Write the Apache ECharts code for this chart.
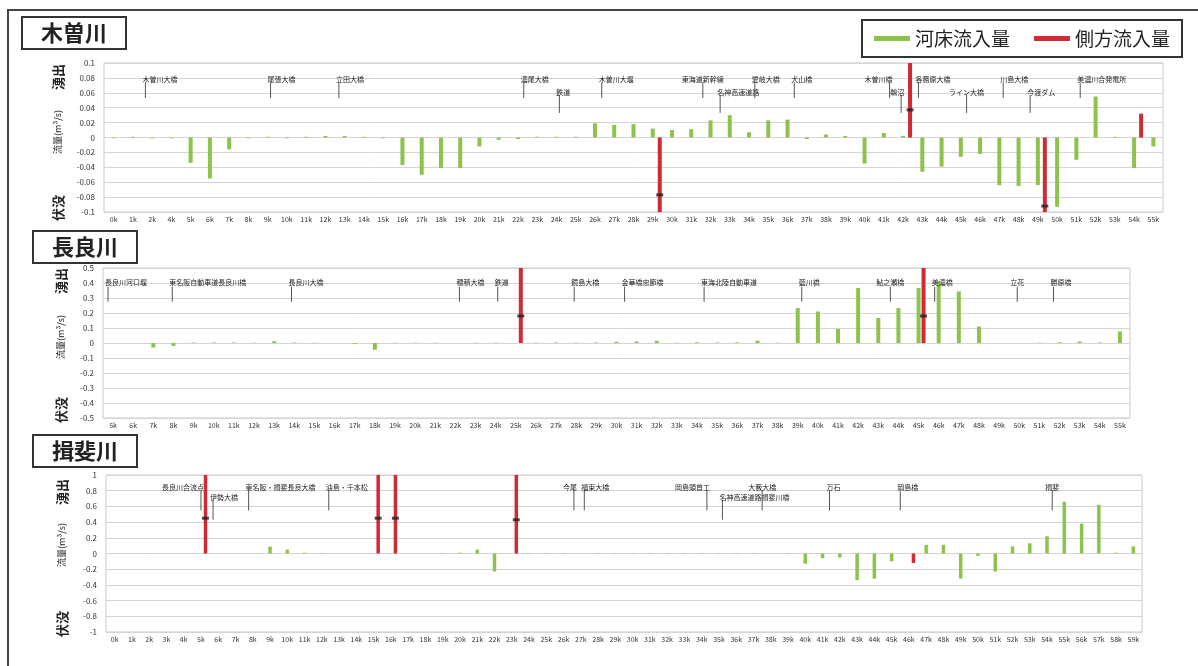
<!DOCTYPE html>
<html><head><meta charset="utf-8">
<script src="https://cdn.jsdelivr.net/npm/echarts@6/dist/echarts.min.js"></script>
<style>html,body{margin:0;padding:0;background:#fff}#c{width:1198px;height:666px}</style>
</head><body><div id="c"></div>
<script>
// ---------- 木曽川 ----------
const kisoCats = ['0k','1k','2k','4k','5k','6k','7k','8k','9k','10k','11k','12k','13k','14k','15k','16k','17k','18k','19k','20k','21k','22k','23k','24k','25k','26k','27k','28k','29k','30k','31k','32k','33k','34k','35k','36k','37k','38k','39k','40k','41k','42k','43k','44k','45k','46k','47k','48k','49k','50k','51k','52k','53k','54k','55k'];
const kisoBed = [-0.001,0.001,-0.001,-0.001,-0.034,-0.055,-0.016,-0.001,0.001,-0.001,0.001,0.002,0.002,0.001,-0.001,-0.037,-0.050,-0.041,-0.041,-0.012,-0.003,-0.002,0.001,0.001,0.001,0.019,0.017,0.018,0.012,0.010,0.011,0.023,0.030,0.007,0.023,0.024,-0.002,0.004,0.002,-0.035,0.006,0.002,-0.046,-0.039,-0.026,-0.022,-0.064,-0.065,-0.064,-0.093,-0.030,0.055,0.001,-0.041,-0.012];
const kisoSide = [['29k',-0.1],['42k',0.1],['49k',-0.1],['54k',0.032]];
const kisoMarks = [['29k',-0.077],['42k',0.037],['49k',-0.092]];
const kisoTicks = {min:-0.1, max:0.1, interval:0.02};
const kisoNotes = [
  [1.65,0,'木曽川大橋','l'],[9.15,0,'尾張大橋','l'],[12.7,0,'立田大橋','l'],[22.3,0,'濃尾大橋','l'],
  [24.15,1,'鉄道','l'],[26.35,0,'木曽川大堰','l'],[31.6,0,'東海道新幹線','c'],[32.5,1,'名神高速道路','l'],
  [34.3,0,'愛岐大橋','l'],[36.35,0,'犬山橋','l'],[41.3,0,'木曽川橋','r'],[41.9,1,'鵜沼','r'],
  [42.8,0,'各務原大橋','l'],[45.3,1,'ライン大橋','c'],[47.2,0,'川島大橋','l'],[48.6,1,'今渡ダム','l'],
  [51.2,0,'美濃川合発電所','l']
];
// ---------- 長良川 ----------
const nagaraCats = ['5k','6k','7k','8k','9k','10k','11k','12k','13k','14k','15k','16k','17k','18k','19k','20k','21k','22k','23k','24k','25k','26k','27k','28k','29k','30k','31k','32k','33k','34k','35k','36k','37k','38k','39k','40k','41k','42k','43k','44k','45k','46k','47k','48k','49k','50k','51k','52k','53k','54k','55k'];
const nagaraBed = [0,0,-0.03,-0.02,0.003,0.003,0.003,0.002,0.012,0.003,0.002,0,-0.005,-0.045,0.002,0.002,0.002,0,0.002,0.002,0,0.002,0.003,0.002,0.003,0.008,0.01,0.015,0.002,0.005,0.003,0.004,0.015,0.002,0.233,0.21,0.093,0.367,0.167,0.233,0.367,0.41,0.344,0.11,0,0,0.002,0.005,0.01,0.003,0.077];
const nagaraSide = [['25k',0.5],['45k',0.5]];
const nagaraMarks = [['25k',0.18],['45k',0.18]];
const nagaraTicks = {min:-0.5, max:0.5, interval:0.1};
const nagaraNotes = [
  [4.75,0,'長良川河口堰','l'],[7.94,0,'東名阪自動車道長良川橋','l'],[13.86,0,'長良川大橋','l'],
  [22.2,0,'穂積大橋','l'],[24.1,0,'鉄道','l'],[27.9,0,'鏡島大橋','l'],[30.4,0,'金華橋忠節橋','l'],
  [34.35,0,'東海北陸自動車道','l'],[39.2,0,'藍川橋','l'],[43.6,0,'鮎之瀬橋','c'],[45.8,0,'美濃橋','l'],
  [49.9,0,'立花','c'],[51.7,0,'勝原橋','l']
];
// ---------- 揖斐川 ----------
const ibiCats = ['0k','1k','2k','3k','4k','5k','6k','7k','8k','9k','10k','11k','12k','13k','14k','15k','16k','17k','18k','19k','20k','21k','22k','23k','24k','25k','26k','27k','28k','29k','30k','31k','32k','33k','34k','35k','36k','37k','38k','39k','40k','41k','42k','43k','44k','45k','46k','47k','48k','49k','50k','51k','52k','53k','54k','55k','56k','57k','58k','59k'];
const ibiBed = [0,0,0.002,0,0,0,0,0,0,0.087,0.05,0.01,0.005,0,0,0,0,0,0,0.005,0.01,0.05,-0.23,0,0.005,0.005,0.005,0,0.005,0.005,0.005,0.005,0.005,0.005,0.005,0.005,0.005,0.005,0,0.005,-0.13,-0.06,-0.05,-0.34,-0.32,-0.10,0,0.11,0.11,-0.32,-0.03,-0.23,0.09,0.13,0.22,0.66,0.38,0.62,0.01,0.09];
const ibiSide = [['5k',1],['15k',1],['16k',1],['23k',1],['46k',-0.12]];
const ibiMarks = [['5k',0.45],['15k',0.45],['16k',0.45],['23k',0.43]];
const ibiTicks = {min:-1, max:1, interval:0.2};
const ibiNotes = [
  [5.0,0,'長良川合流点','r'],[5.7,1,'伊勢大橋','l'],[7.76,0,'東名阪・揖斐長良大橋','l'],[12.4,0,'油島・千本松','l'],
  [26.6,0,'今尾','r'],[27.2,0,'福束大橋','l'],[34.3,0,'岡島頭首工','r'],[35.2,1,'名神高速道路揖斐川橋','l'],
  [37.5,0,'大藪大橋','c'],[41.4,0,'万石','l'],[45.5,0,'岡島橋','l'],[54.3,0,'揖斐','c']
];
const riverNames = ['木曽川','長良川','揖斐川'];
const legendNames = ['河床流入量','側方流入量'];

// ---------- layout ----------
const GREEN = '#8cc34a', RED = '#d02a35';
const FONT = '"Noto Sans CJK JP", sans-serif';
const panels = [
  {cats:kisoCats, bed:kisoBed, side:kisoSide, marks:kisoMarks, ticks:kisoTicks, notes:kisoNotes,
   grid:{left:104, top:63, width:1059, height:149}, bw:4, gap:'75%', off:7,
   lv:[{text:0.0785, top:0.074, bottom:0.053},{text:0.061, top:0.057, bottom:0.033}],
   title:{left:22, top:17}, names:{x:58, top:77, mid:132, bot:208}},
  {cats:nagaraCats, bed:nagaraBed, side:nagaraSide, marks:nagaraMarks, ticks:nagaraTicks, notes:nagaraNotes,
   grid:{left:103, top:268, width:1027, height:150}, bw:4, gap:'25%', off:5,
   lv:[{text:0.403, top:0.375, bottom:0.275},{text:0.33, top:0.3, bottom:0.2}],
   title:{left:33, top:231}, names:{x:61, top:281, mid:337, bot:410}},
  {cats:ibiCats, bed:ibiBed, side:ibiSide, marks:ibiMarks, ticks:ibiTicks, notes:ibiNotes,
   grid:{left:106, top:475, width:1036, height:157}, bw:3.5, gap:'30%', off:4.5,
   lv:[{text:0.847, top:0.81, bottom:0.55},{text:0.71, top:0.68, bottom:0.43}],
   title:{left:33, top:435}, names:{x:62, top:492, mid:545, bot:624}}
];

function kmIndex(cats, km){
  const k = cats.map(c => parseFloat(c));
  for (let i = 0; i < k.length - 1; i++) {
    if (km <= k[i+1]) return i + (km - k[i]) / (k[i+1] - k[i]);
  }
  return k.length - 1;
}
function noteRenderer(p){
  return function(params, api){
    const n = p.notes[params.dataIndex];
    const f = kmIndex(p.cats, n[0]);
    const bw = api.size([1,0])[0];
    const x = api.coord([0,0])[0] + f * bw;
    const lv = p.lv[n[1]];
    const yT = api.coord([0, lv.text])[1];
    const y1 = api.coord([0, lv.top])[1];
    const y2 = api.coord([0, lv.bottom])[1];
    const align = n[3] === 'l' ? 'left' : n[3] === 'r' ? 'right' : 'center';
    const tx = n[3] === 'l' ? x - 3 : n[3] === 'r' ? x + 3 : x;
    return {type:'group', children:[
      {type:'line', shape:{x1:x, y1:y1, x2:x, y2:y2}, style:{stroke:'#555', lineWidth:1}},
      {type:'text', x:tx, y:yT, style:{text:n[2], fill:'#222', font:'7px ' + FONT, align:align, verticalAlign:'middle'}}
    ]};
  };
}

const option = {
  animation:false,
  backgroundColor:'#fff',
  textStyle:{fontFamily:FONT},
  title: panels.map((p,i) => ({
    text:riverNames[i], left:p.title.left, top:p.title.top,
    padding:[5,19,5,19], borderColor:'#333', borderWidth:2,
    textStyle:{fontSize:22, fontWeight:'bold', color:'#222', fontFamily:FONT}
  })),
  legend:{
    data:legendNames, left:862, top:20, padding:[9,12,9,12], itemGap:24,
    itemWidth:36, itemHeight:5, icon:'rect', borderColor:'#333', borderWidth:2,
    textStyle:{fontSize:19, color:'#222', fontFamily:FONT}
  },
  grid: panels.map(p => Object.assign({show:true, borderColor:'#c8c8c8', borderWidth:1, containLabel:false}, p.grid)),
  xAxis: panels.map((p,i) => ({
    type:'category', gridIndex:i, data:p.cats,
    axisLine:{show:false, onZero:false}, axisTick:{show:false},
    axisLabel:{interval:0, fontSize:7, color:'#333', margin:4}
  })),
  yAxis: panels.map((p,i) => ({
    type:'value', gridIndex:i, min:p.ticks.min, max:p.ticks.max, interval:p.ticks.interval,
    axisLine:{show:false}, axisTick:{show:false},
    axisLabel:{fontSize:8, color:'#333', margin:9},
    splitLine:{lineStyle:{color:'#d4d4d4', width:1}}
  })),
  series: [],
  graphic: [
    {type:'rect', shape:{x:8, y:10, width:1210, height:700}, style:{fill:'none', stroke:'#444', lineWidth:2}, silent:true}
  ]
};

panels.forEach((p,i) => {
  option.series.push(
    {type:'bar', name:'_pad', xAxisIndex:i, yAxisIndex:i, data:p.cats.map(() => null), barWidth:p.bw, barGap:p.gap},
    {type:'bar', name:legendNames[0], xAxisIndex:i, yAxisIndex:i, data:p.bed, barWidth:p.bw, barGap:p.gap, itemStyle:{color:GREEN}},
    {type:'bar', name:legendNames[1], xAxisIndex:i, yAxisIndex:i, data:p.side, barWidth:p.bw, barGap:p.gap, itemStyle:{color:RED}},
    {type:'scatter', name:'_mk', xAxisIndex:i, yAxisIndex:i, data:p.marks, symbol:'rect', symbolSize:[7,3], symbolOffset:[p.off,0], itemStyle:{color:'#222'}, z:5},
    {type:'custom', name:'_note', xAxisIndex:i, yAxisIndex:i, data:p.notes.map(() => [0,0]), renderItem:noteRenderer(p), z:4}
  );
  const n = p.names;
  option.graphic.push(
    {type:'text', x:n.x, y:n.top, rotation:Math.PI/2, style:{text:'湧出', font:'bold 13px ' + FONT, fill:'#222', align:'center', verticalAlign:'middle'}},
    {type:'text', x:n.x, y:n.mid, rotation:Math.PI/2, style:{text:'流量(m³/s)', font:'9px ' + FONT, fill:'#222', align:'center', verticalAlign:'middle'}},
    {type:'text', x:n.x, y:n.bot, rotation:Math.PI/2, style:{text:'伏没', font:'bold 13px ' + FONT, fill:'#222', align:'center', verticalAlign:'middle'}}
  );
});

const chart = echarts.init(document.getElementById('c'), null, {renderer:'canvas'});
chart.setOption(option);
</script>
</body></html>
